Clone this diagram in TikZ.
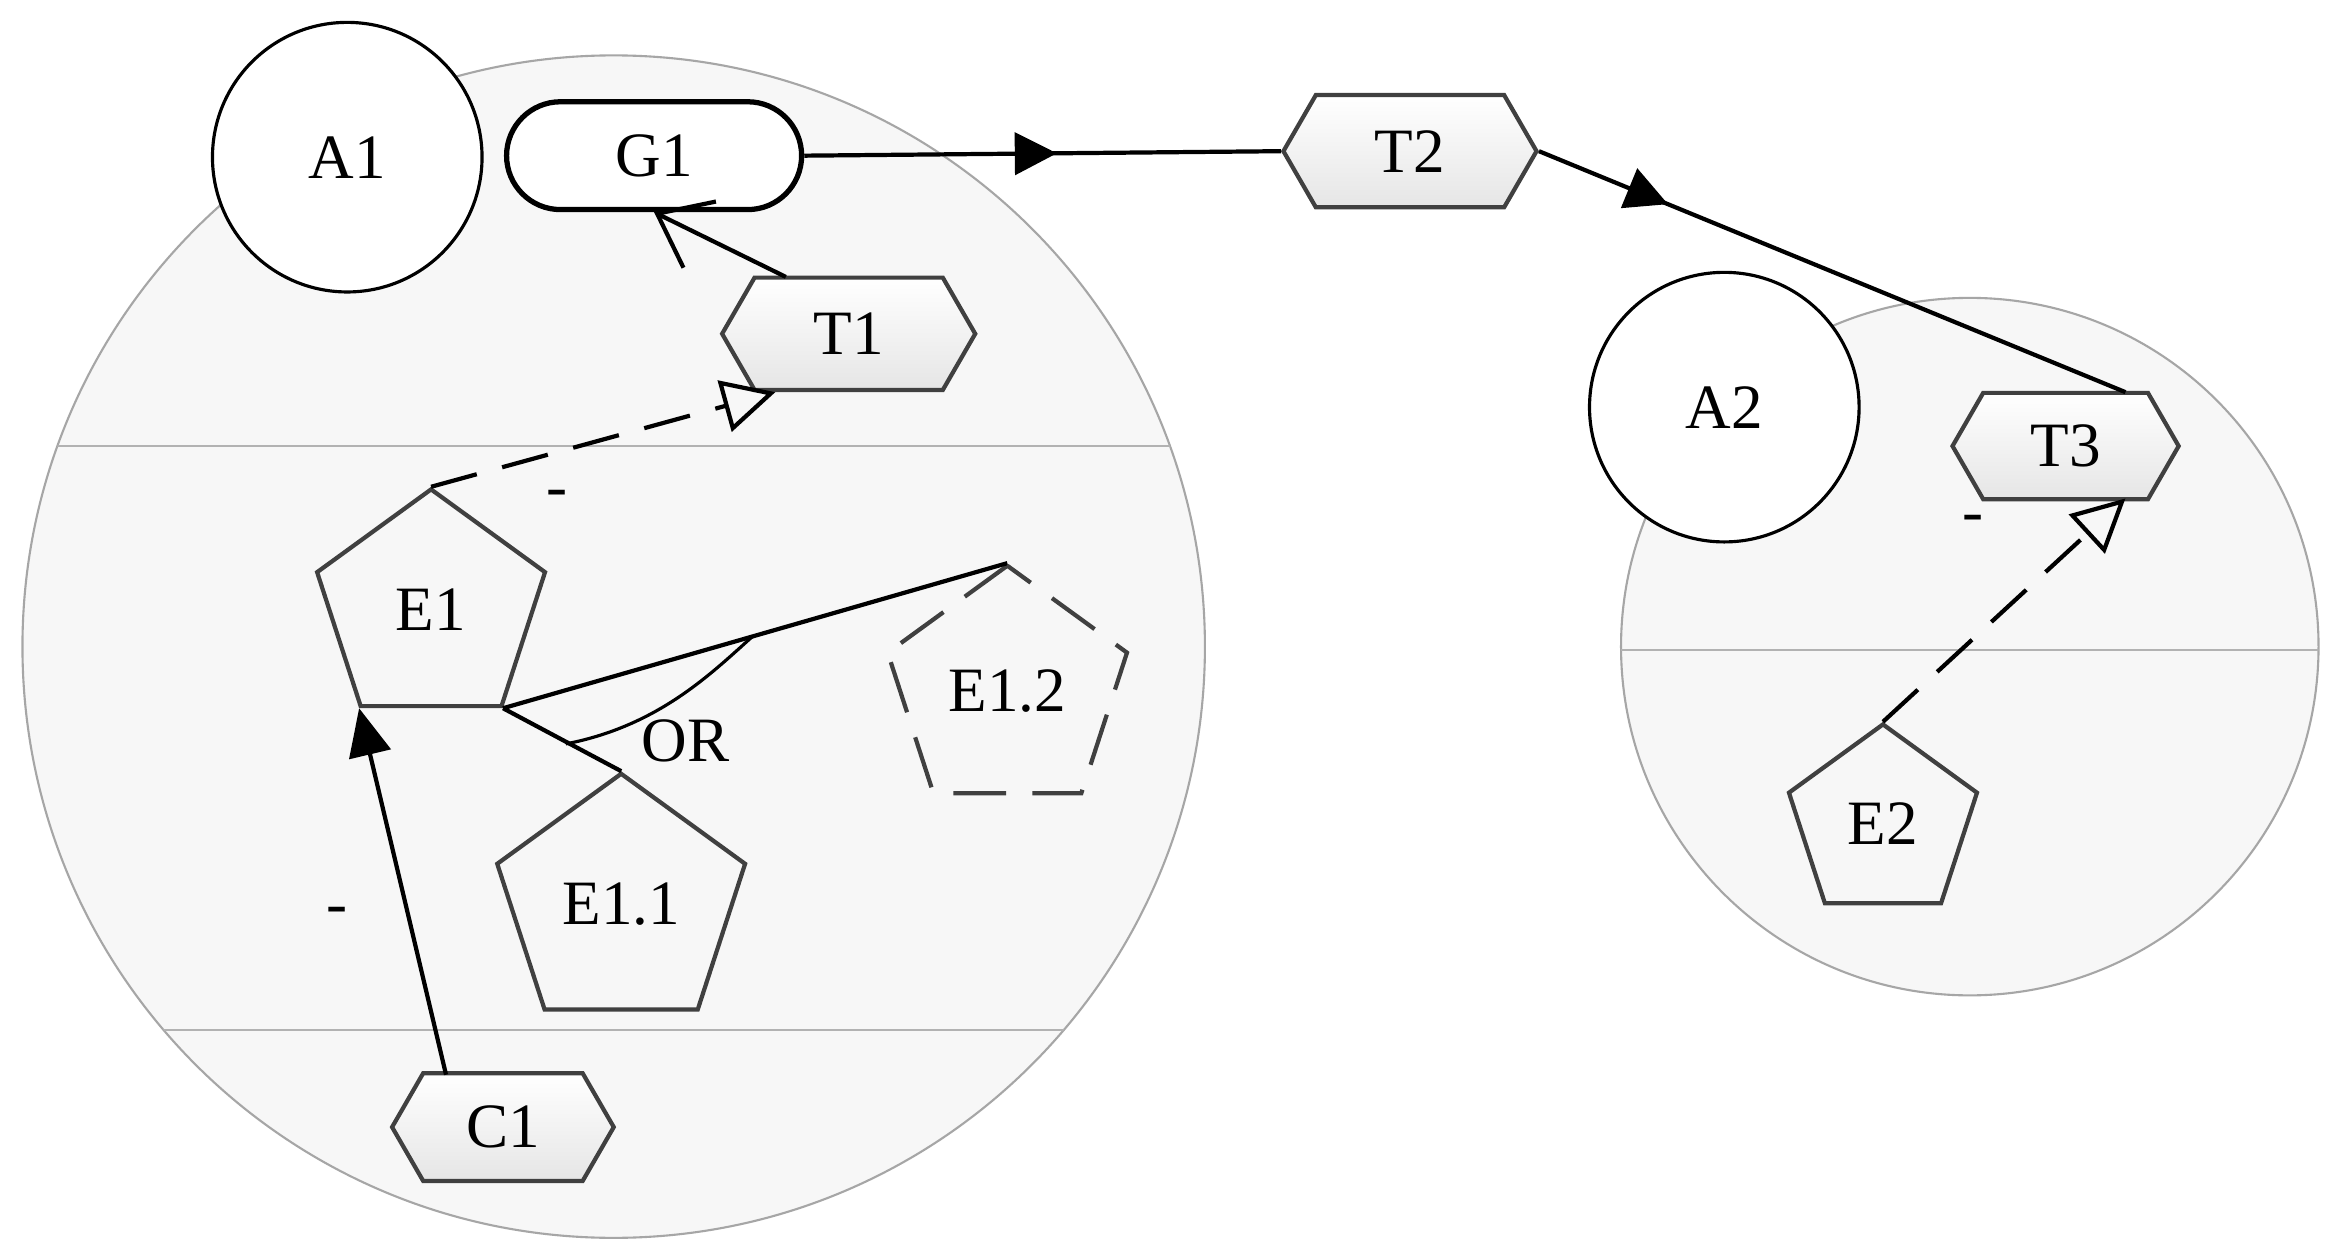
\documentclass[tikz,border=0pt]{standalone}
\usepackage{fontspec}
\setmainfont{Liberation Serif}
\usetikzlibrary{shapes.geometric,shapes.symbols,arrows.meta,decorations.markings}
\begin{document}
\begin{tikzpicture}[x=0.01cm,y=-0.01cm,font=\fontsize{12}{14}\selectfont,
 line width=0.8pt,
 zone/.style={draw=gray!70,line width=0.4pt,fill=gray!6},
 sep/.style={draw=gray!60,line width=0.4pt},
 circ/.style={circle,draw,line width=0.6pt,fill=white,inner sep=0},
 hex/.style={signal,signal to=west and east,signal pointer angle=120,draw=black!75,line width=0.8pt,
   top color=white,bottom color=gray!20,inner sep=0,minimum height=0.75cm},
 pent/.style={regular polygon,regular polygon sides=5,draw=black!75,line width=0.8pt,fill=gray!6,inner sep=0},
 dpent/.style={pent,dashed,dash pattern=on 10pt off 5pt},
 dsh/.style={dashed,dash pattern=on 9pt off 5pt},
 midarrow/.style={postaction={decorate},decoration={markings,mark=at position #1 with {\arrow{Triangle[length=8pt,width=8pt]}}}}]
\useasboundingbox[fill=white] (0,0) rectangle (1560,833);
% zones
\draw[zone] (410,432) circle (395);
\begin{scope}\clip (410,432) circle (395);
 \draw[sep] (0,298) -- (900,298); \draw[sep] (0,688) -- (900,688);
\end{scope}
\draw[zone] (1316,432) circle (233);
\begin{scope}\clip (1316,432) circle (233);
 \draw[sep] (1000,434) -- (1600,434);
\end{scope}
% nodes
\node[circ,minimum size=1.8cm] (A1) at (232,105) {A1};
\node[circ,minimum size=1.8cm] (A2) at (1152,272) {A2};
\node[draw,rounded corners=0.36cm,line width=1pt,fill=white,minimum width=1.97cm,minimum height=0.72cm] (G1) at (437,104) {G1};
\node[hex,minimum width=1.69cm] (T1) at (567,223) {T1};
\node[hex,minimum width=1.69cm] (T2) at (942,101) {T2};
\node[hex,minimum width=1.51cm,minimum height=0.71cm] (T3) at (1380,298) {T3};
\node[hex,minimum width=1.48cm,minimum height=0.72cm] (C1) at (336,753) {C1};
\node[pent,minimum size=1.6cm] (E1) at (288,407) {E1};
\node[pent,minimum size=1.74cm] (E11) at (415,604) {E1.1};
\node[dpent,minimum size=1.68cm] (E12) at (673,462) {E1.2};
\node[pent,minimum size=1.32cm] (E2) at (1258,550) {E2};
\coordinate (T1a) at (525,185);
\coordinate (T1b) at (518,262);
\coordinate (T3b) at (1420,333);
\coordinate (T3t) at (1420,262);
% connectors
\draw[midarrow=0.53] (G1.east) -- (T2.west);
\draw[midarrow=0.22] (T2.east) -- (T3t);
\draw[-{Straight Barb[length=9pt,width=14pt]}] (T1a) -- (G1.south);
\draw[dsh,-{Triangle[open,length=10pt,width=10pt]}] (E1.corner 1) -- (T1b);
\draw (E1.corner 4) -- (E12.corner 1);
\draw (E1.corner 4) -- (E11.corner 1);
\draw[line width=0.6pt] (378,497) .. controls (440,485) and (475,450) .. (503,425);
\node at (458,495) {OR};
\draw[-{Triangle[length=9pt,width=8pt]}] (298,718) -- (E1.corner 3);
\draw[dsh,-{Triangle[open,length=10pt,width=10pt]}] (E2.corner 1) -- (T3b);
\node at (372,333) {-};
\node at (225,612) {-};
\node at (1318,350) {-};
\end{tikzpicture}
\end{document}
